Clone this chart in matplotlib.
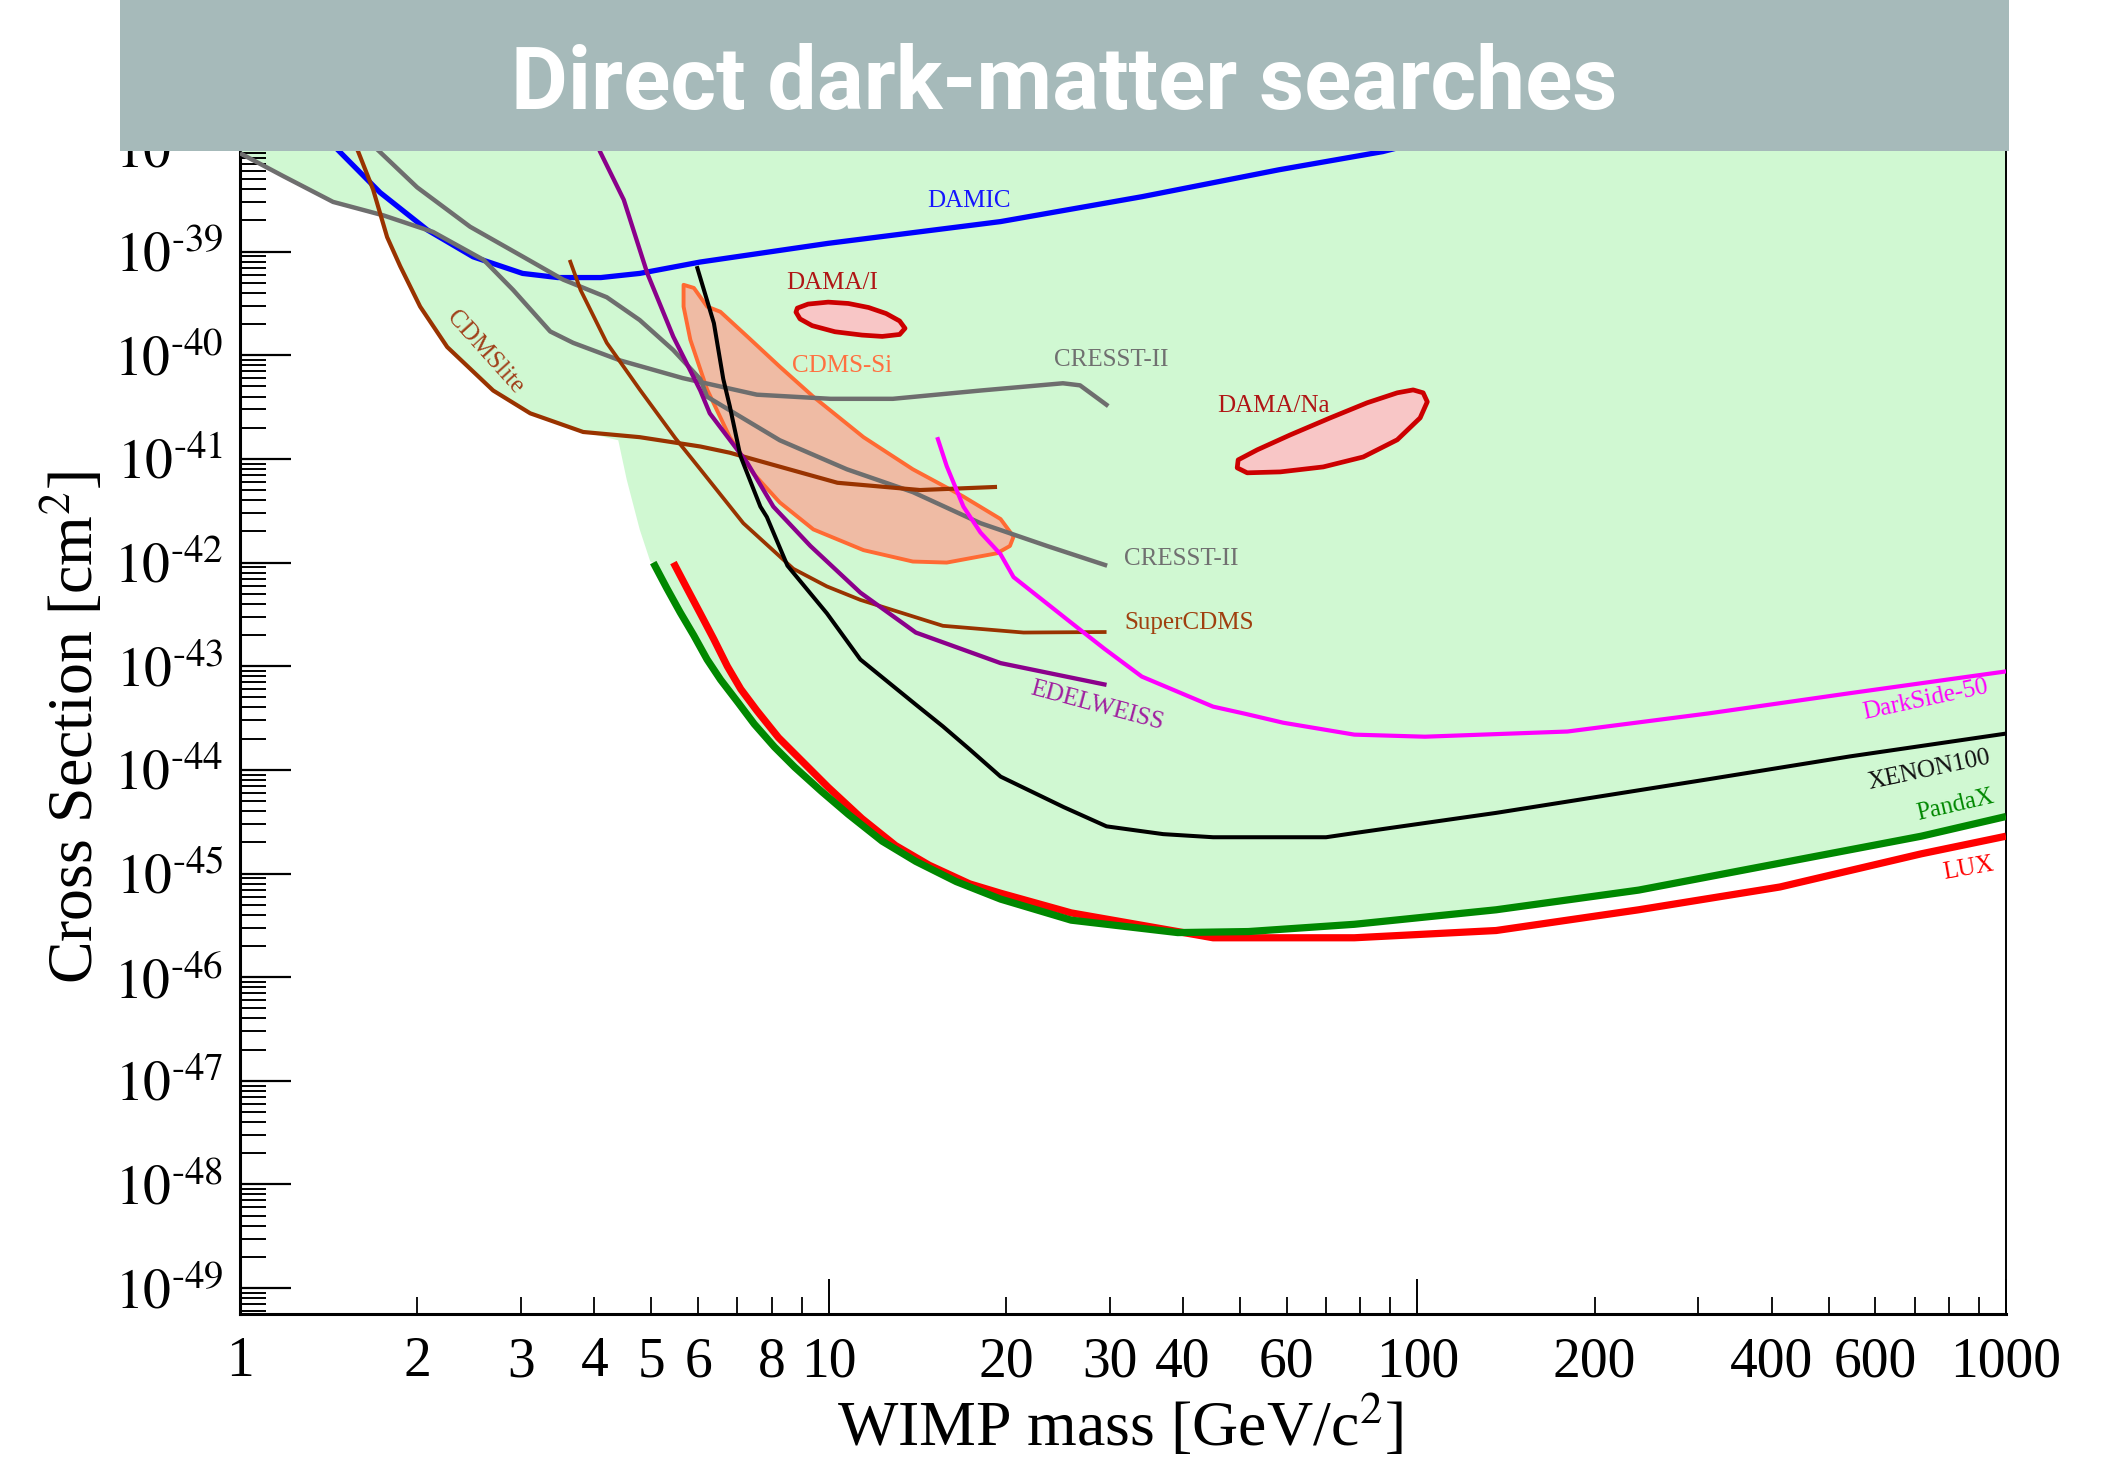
"""
Exclusion limits from direct dark-matter searches: spin-independent
WIMP-nucleon cross section against WIMP mass, with the signal regions
claimed by DAMA and CDMS-Si.
"""
import matplotlib
matplotlib.use('Agg')

import numpy as np
import matplotlib.pyplot as plt
from matplotlib.patches import Rectangle, Polygon
from matplotlib.ticker import NullFormatter

plt.rcParams['font.family'] = ['Liberation Serif', 'DejaVu Serif']
plt.rcParams['mathtext.fontset'] = 'stix'

# --- limit curves: mass in GeV/c^2, cross section as log10(sigma / cm^2) ---
damic_mass = [1.40, 1.479, 1.730, 2.080, 2.489, 3.020, 3.467, 4.102, 4.775, 6.053,
              9.977, 19.59, 34.04, 58.21, 87.30, 100.0]
damic_logsig = [-37.90, -38.04, -38.43, -38.79, -39.05, -39.21, -39.25, -39.25, -39.21,
                -39.10, -38.92, -38.71, -38.47, -38.21, -38.035, -37.95]

cresst_a_mass = [1.0, 1.183, 1.439, 1.752, 2.128, 2.594, 2.911, 3.365, 3.681, 4.426,
                 5.649, 7.551, 10.07, 12.85, 18.11, 25.0, 26.73, 29.85]
cresst_a_logsig = [-38.05, -38.27, -38.52, -38.65, -38.81, -39.08, -39.37, -39.77, -39.88,
                   -40.05, -40.22, -40.38, -40.42, -40.42, -40.34, -40.27, -40.29, -40.49]

cresst_b_mass = [1.63, 1.730, 2.0, 2.460, 3.027, 3.540, 4.198, 4.775, 5.445, 6.053,
                 6.216, 8.260, 10.74, 13.90, 18.11, 23.50, 29.72]
cresst_b_logsig = [-37.90, -38.04, -38.38, -38.76, -39.05, -39.27, -39.44, -39.66, -39.95,
                   -40.23, -40.40, -40.82, -41.10, -41.32, -41.62, -41.84, -42.03]

cdmslite_mass = [1.55, 1.589, 1.683, 1.778, 1.871, 2.023, 2.249, 2.692, 3.112, 3.828,
                 4.775, 6.053, 6.792, 10.35, 14.29, 19.32]
cdmslite_logsig = [-37.90, -38.04, -38.40, -38.86, -39.14, -39.53, -39.92, -40.34, -40.56,
                   -40.74, -40.79, -40.88, -40.94, -41.23, -41.30, -41.27]

supercdms_mass = [3.631, 3.789, 4.198, 4.775, 5.49, 6.053, 7.161, 8.710, 9.931, 11.32,
                  15.63, 21.43, 29.65]
supercdms_logsig = [-39.08, -39.37, -39.88, -40.33, -40.80, -41.10, -41.62, -42.06, -42.23,
                    -42.36, -42.61, -42.675, -42.67]

edelweiss_mass = [4.0, 4.093, 4.487, 4.920, 5.445, 6.053, 6.281, 7.278, 8.054, 9.311,
                  11.32, 14.06, 19.59, 29.65]
edelweiss_logsig = [-37.90, -38.04, -38.50, -39.21, -39.82, -40.34, -40.56, -41.04, -41.46,
                    -41.84, -42.29, -42.675, -42.97, -43.18]

xenon100_mass = [5.970, 6.383, 6.622, 6.792, 7.079, 7.656, 7.852, 8.511, 9.931, 11.32,
                 14.06, 15.63, 17.34, 19.59, 25.09, 29.65, 37.0, 44.98, 69.98, 78.16,
                 136.1, 312.6, 543.3, 1000.0]
xenon100_logsig = [-39.14, -39.69, -40.23, -40.49, -40.97, -41.46, -41.56, -42.03, -42.49,
                   -42.935, -43.37, -43.58, -43.80, -44.065, -44.36, -44.545, -44.62,
                   -44.65, -44.65, -44.61, -44.415, -44.09, -43.87, -43.65]

darkside_mass = [15.29, 15.87, 16.94, 18.11, 19.59, 20.61, 25.82, 29.38, 34.04, 44.98,
                 51.1, 59.16, 78.16, 103.0, 179.9, 312.6, 543.3, 1000.0]
darkside_logsig = [-40.79, -41.07, -41.46, -41.71, -41.92, -42.14, -42.58, -42.83, -43.10,
                   -43.39, -43.46, -43.545, -43.66, -43.68, -43.63, -43.455, -43.26,
                   -43.05]

pandax_mass = [5.035, 5.309, 5.595, 5.898, 6.216, 6.552, 7.018, 7.475, 8.088, 8.754,
               9.726, 10.80, 12.33, 14.06, 16.47, 19.59, 25.82, 39.17, 51.64, 78.16,
               136.1, 237.7, 413.0, 717.8, 1000.0]
pandax_logsig = [-42.0, -42.247, -42.481, -42.701, -42.935, -43.13, -43.351, -43.558,
                 -43.779, -43.974, -44.208, -44.429, -44.688, -44.883, -45.078, -45.247,
                 -45.45, -45.57, -45.56, -45.49, -45.35, -45.16, -44.90, -44.64, -44.45]

lux_mass = [5.449, 5.743, 6.056, 6.382, 6.727, 7.091, 7.553, 8.216, 8.986, 9.985, 11.39,
            12.99, 14.82, 17.36, 19.59, 25.82, 44.98, 78.16, 136.1, 237.7, 413.0, 717.8,
            1000.0]
lux_logsig = [-42.0, -42.247, -42.494, -42.74, -43.0, -43.221, -43.429, -43.688, -43.909,
              -44.169, -44.47, -44.73, -44.92, -45.10, -45.19, -45.38, -45.62, -45.62,
              -45.55, -45.35, -45.13, -44.81, -44.64]

# --- claimed signal regions (closed contours) ---
cdmssi_mass = [5.669, 5.902, 6.216, 6.546, 7.278, 8.260, 9.419, 11.46, 13.90, 16.90,
               19.59, 20.61, 20.32, 19.32, 15.87, 13.90, 11.46, 9.419, 8.260, 7.447,
               6.792, 6.216, 5.821, 5.669]
cdmssi_logsig = [-39.32, -39.35, -39.53, -39.58, -39.82, -40.11, -40.40, -40.79, -41.10,
                 -41.36, -41.58, -41.75, -41.84, -41.91, -42.0, -41.99, -41.88, -41.68,
                 -41.42, -41.14, -40.79, -40.33, -39.85, -39.53]

dama_i_mass = [8.846, 9.226, 9.98, 10.80, 11.69, 12.52, 13.20, 13.48, 13.20, 12.33,
               11.39, 10.25, 9.374, 8.940, 8.800]
dama_i_logsig = [-39.545, -39.506, -39.487, -39.50, -39.539, -39.597, -39.669, -39.74,
                 -39.799, -39.818, -39.805, -39.773, -39.714, -39.649, -39.584]

dama_na_mass = [49.62, 53.47, 60.83, 71.12, 82.20, 92.46, 98.38, 102.3, 103.97, 101.1,
                92.46, 80.93, 69.21, 58.51, 51.40, 49.43]
dama_na_logsig = [-41.009, -40.912, -40.768, -40.604, -40.458, -40.362, -40.334, -40.362,
                  -40.449, -40.604, -40.815, -40.981, -41.077, -41.125, -41.134, -41.086]

# left edge of the excluded (shaded) region, above which PandaX closes it
excluded_edge_mass = [1.0, 1.0, 1.183, 1.439, 1.730, 1.778, 1.871, 2.023, 2.249, 2.692,
                      3.112, 3.828, 4.391, 4.539, 4.775, 4.977]
excluded_edge_logsig = [-38.0, -38.05, -38.27, -38.52, -38.63, -38.86, -39.14, -39.53,
                        -39.92, -40.34, -40.56, -40.74, -40.82, -41.20, -41.68, -41.99]

x_tick_values = [1, 2, 3, 4, 5, 6, 8, 10, 20, 30, 40, 60, 100, 200, 400, 600, 1000]
y_decades = list(range(-49, -37))


def sig(logs):
    return 10.0 ** np.asarray(logs)


fig = plt.figure(figsize=(21.11, 14.61), dpi=100)
ax = fig.add_axes([240 / 2111, 147 / 1461, 1766 / 2111, 1166 / 1461])
ax.set_xscale('log')
ax.set_yscale('log')

# shaded excluded region
edge_x = list(excluded_edge_mass) + list(pandax_mass) + [1000.0]
edge_y = list(excluded_edge_logsig) + list(pandax_logsig) + [-38.0]
ax.add_patch(Polygon(np.column_stack([edge_x, sig(edge_y)]), closed=True,
                     facecolor='#d0f8d2', edgecolor='none', zorder=1))

ax.add_patch(Polygon(np.column_stack([cdmssi_mass, sig(cdmssi_logsig)]), closed=True,
                     facecolor='#efbba4', edgecolor='#ff6a33', linewidth=2.8,
                     joinstyle='round', zorder=2))
for m, s in [(dama_i_mass, dama_i_logsig), (dama_na_mass, dama_na_logsig)]:
    ax.add_patch(Polygon(np.column_stack([m, sig(s)]), closed=True,
                         facecolor='#f8c6c6', edgecolor='#cc0000', linewidth=3.4,
                         joinstyle='round', zorder=2))

curves = [
    (damic_mass, damic_logsig, '#0000ff', 3.8),
    (cresst_a_mass, cresst_a_logsig, '#6e6e6e', 3.2),
    (cresst_b_mass, cresst_b_logsig, '#6e6e6e', 3.2),
    (cdmslite_mass, cdmslite_logsig, '#993300', 3.0),
    (supercdms_mass, supercdms_logsig, '#993300', 2.7),
    (edelweiss_mass, edelweiss_logsig, '#8b008b', 3.1),
    (xenon100_mass, xenon100_logsig, '#000000', 2.9),
    (darkside_mass, darkside_logsig, '#ff00ff', 3.0),
    (lux_mass, lux_logsig, '#ff0000', 5.2),
    (pandax_mass, pandax_logsig, '#008800', 5.2),
]
for m, s, color, lw in curves:
    ax.plot(m, sig(s), color=color, linewidth=lw, solid_joinstyle='round',
            solid_capstyle='butt', zorder=3)

label_kw = dict(fontsize=18, zorder=4)
ax.text(17.34, 10 ** -38.51, 'DAMIC', color='#1515ff', ha='center', va='center', **label_kw)
ax.text(10.14, 10 ** -39.30, 'DAMA/I', color='#b01515', ha='center', va='center', **label_kw)
ax.text(10.52, 10 ** -40.10, 'CDMS-Si', color='#ff7040', ha='center', va='center', **label_kw)
ax.text(30.17, 10 ** -40.05, 'CRESST-II', color='#707070', ha='center', va='center', **label_kw)
ax.text(57.0, 10 ** -40.49, 'DAMA/Na', color='#b01515', ha='center', va='center', **label_kw)
ax.text(2.61, 10 ** -39.97, 'CDMSlite', color='#a0401a', ha='center', va='center',
        rotation=-48, **label_kw)
ax.text(31.8, 10 ** -41.97, 'CRESST-II', color='#707070', ha='left', va='center', **label_kw)
ax.text(31.8, 10 ** -42.58, 'SuperCDMS', color='#a0400f', ha='left', va='center', **label_kw)
ax.text(28.6, 10 ** -43.38, 'EDELWEISS', color='#a020a0', ha='center', va='center',
        rotation=-15, **label_kw)
ax.text(729, 10 ** -43.32, 'DarkSide-50', color='#ff00ff', ha='center', va='center',
        rotation=12, **label_kw)
ax.text(741, 10 ** -44.0, 'XENON100', color='#111111', ha='center', va='center',
        rotation=12, **label_kw)
ax.text(819, 10 ** -44.34, 'PandaX', color='#008800', ha='center', va='center',
        rotation=13, **label_kw)
ax.text(863, 10 ** -44.95, 'LUX', color='#ff0000', ha='center', va='center',
        rotation=10, **label_kw)

# axes, ticks and labels
ax.set_yticks([10.0 ** e for e in y_decades],
              labels=[f'$10^{{\\text{{-}}{-e}}}$' for e in y_decades])
ax.set_yticks([k * 10.0 ** e for e in range(-50, -37) for k in range(2, 10)], minor=True)
ax.yaxis.set_minor_formatter(NullFormatter())

ax.set_xticks([1, 10, 100, 1000], labels=['1', '10', '100', '1000'])
x_minor = [k * 10 ** d for d in range(3) for k in range(2, 10)]
ax.set_xticks(x_minor, labels=[str(v) if v in x_tick_values else '' for v in x_minor],
              minor=True)

# limits last: set_*ticks widens the view to hold every tick
ax.set_xlim(1, 1000)
ax.set_ylim(10 ** -49.25, 1e-38)

ax.tick_params(axis='y', which='major', direction='in', length=37, width=1.6,
               labelsize=40, pad=12, right=False)
ax.tick_params(axis='y', which='minor', direction='in', length=19, width=1.4, right=False)
ax.tick_params(axis='x', which='major', direction='in', length=25, width=1.4,
               labelsize=40, pad=16, top=False)
ax.tick_params(axis='x', which='minor', direction='in', length=12, width=1.3,
               labelsize=40, pad=16, top=False)

for side in ['left', 'bottom']:
    ax.spines[side].set_linewidth(2.2)
ax.spines['right'].set_linewidth(1.4)
ax.spines['top'].set_linewidth(1.4)

fig.text(1120 / 2111, 1 - 1427 / 1461, 'WIMP mass [GeV/c$^2$]', fontsize=46,
         ha='center', va='center')
fig.text(74 / 2111, 1 - 727 / 1461, 'Cross Section [cm$^2$]', fontsize=46,
         ha='center', va='center', rotation=90)

# title banner
fig.patches.append(Rectangle((120 / 2111, 1 - 151 / 1461), 1889 / 2111, 151 / 1461,
                             transform=fig.transFigure, facecolor='#a6baba',
                             edgecolor='none', zorder=10))
fig.text(1064 / 2111, 1 - 85 / 1461, 'Direct dark-matter searches', color='white',
         fontsize=63, fontweight='bold', family=['Liberation Sans Narrow', 'Roboto'],
         ha='center', va='center', zorder=11)

fig.savefig('out.png', dpi=100)
